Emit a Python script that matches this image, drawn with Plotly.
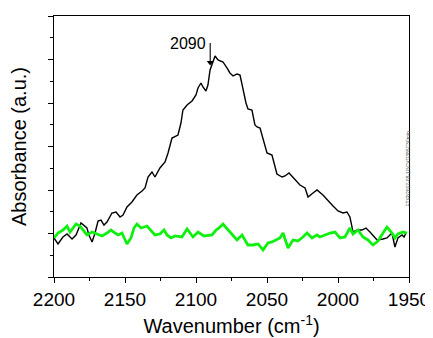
import plotly.graph_objects as go

# Black spectrum (sample)
wn_black = [2200.0, 2197.2, 2193.7, 2190.8, 2187.3, 2184.5, 2181.0, 2178.2, 2176.8, 2175.4,
            2173.2, 2171.1, 2169.0, 2166.9, 2164.8, 2162.7, 2159.2, 2156.3, 2153.5, 2151.4,
            2148.6, 2145.1, 2141.6, 2138.0, 2135.9, 2133.8, 2131.0, 2128.9, 2125.4, 2121.8,
            2119.7, 2116.9, 2114.1, 2112.7, 2110.6, 2109.2, 2106.3, 2102.8, 2100.0, 2098.6,
            2096.5, 2095.1, 2093.0, 2091.6, 2090.1, 2088.0, 2086.6, 2084.5, 2081.0, 2078.2,
            2076.1, 2073.9, 2071.1, 2069.0, 2066.9, 2064.8, 2063.4, 2060.6, 2058.5, 2057.0,
            2054.9, 2052.8, 2050.0, 2046.5, 2045.1, 2043.0, 2039.4, 2037.3, 2034.5, 2031.7,
            2028.9, 2026.8, 2023.2, 2021.1, 2017.6, 2014.8, 2010.6, 2007.0, 2003.5, 2000.0,
            1996.5, 1993.7, 1991.6, 1989.4, 1986.6, 1983.1, 1980.3, 1977.5, 1973.9, 1972.5,
            1968.3, 1965.5, 1962.0, 1959.9, 1957.8, 1954.9, 1953.5, 1952.1]
abs_black = [0.897, 0.759, 0.920, 0.989, 0.874, 0.966, 1.241, 1.149, 1.126, 0.966,
             0.805, 1.011, 1.287, 1.310, 1.195, 1.264, 1.471, 1.494, 1.379, 1.425,
             1.609, 1.724, 1.885, 1.977, 2.046, 2.299, 2.414, 2.299, 2.506, 2.644,
             2.851, 3.195, 3.241, 3.264, 3.540, 3.839, 3.954, 4.046, 4.184, 4.345,
             4.460, 4.368, 4.276, 4.414, 4.759, 4.943, 5.080, 4.989, 4.943, 4.805,
             4.690, 4.621, 4.667, 4.644, 4.299, 4.000, 3.862, 3.839, 3.494, 3.448,
             3.425, 3.149, 2.851, 2.805, 2.621, 2.368, 2.299, 2.322, 2.391, 2.299,
             2.184, 2.115, 2.046, 1.839, 1.931, 2.000, 1.885, 1.747, 1.632, 1.517,
             1.471, 1.494, 1.379, 1.034, 1.080, 1.080, 1.126, 1.034, 0.897, 0.851,
             0.874, 0.897, 1.011, 0.690, 0.897, 0.966, 0.920, 1.011]

# Green spectrum (reference)
wn_green = [2200.0, 2197.2, 2193.7, 2190.8, 2188.7, 2186.6, 2184.5, 2181.7, 2179.6, 2176.8,
            2173.2, 2169.7, 2166.2, 2162.7, 2159.9, 2157.0, 2154.9, 2152.1, 2150.7, 2148.6,
            2145.8, 2143.7, 2141.6, 2138.7, 2134.5, 2131.0, 2128.9, 2125.4, 2122.5, 2120.4,
            2117.6, 2114.8, 2109.9, 2106.3, 2102.1, 2098.6, 2094.4, 2088.7, 2085.9, 2083.8,
            2081.0, 2076.1, 2071.1, 2067.6, 2063.4, 2059.9, 2056.3, 2052.8, 2049.3, 2046.5,
            2043.0, 2040.9, 2038.7, 2035.2, 2031.7, 2028.2, 2024.7, 2021.8, 2018.3, 2014.8,
            2012.7, 2009.2, 2005.6, 2002.1, 1998.6, 1995.1, 1991.6, 1989.4, 1985.9, 1982.4,
            1978.9, 1975.4, 1971.8, 1968.3, 1965.5, 1962.0, 1959.9, 1957.8, 1954.2, 1951.4]
abs_green = [0.897, 1.011, 1.080, 1.172, 1.034, 1.126, 1.218, 1.172, 1.080, 0.966,
             1.034, 0.989, 0.943, 1.011, 1.080, 1.011, 0.966, 1.011, 0.897, 0.759,
             0.897, 1.126, 1.218, 1.126, 1.172, 1.057, 0.966, 0.989, 1.080, 0.966,
             0.897, 0.943, 0.920, 1.103, 0.920, 1.034, 0.943, 0.966, 1.080, 1.126,
             1.218, 1.034, 0.851, 0.966, 0.736, 0.736, 0.759, 0.621, 0.782, 0.805,
             0.851, 0.897, 1.011, 0.667, 0.851, 0.828, 0.920, 1.011, 0.897, 0.966,
             0.920, 0.966, 1.011, 1.034, 0.897, 0.920, 1.126, 0.989, 1.080, 0.920,
             0.851, 0.736, 0.828, 1.011, 1.149, 1.011, 0.897, 0.989, 1.034, 1.011]

x_ticks = [2200, 2150, 2100, 2050, 2000, 1950]
peak_label = "2090"
peak_wn = 2090
arrow_top = 5.38
arrow_head = 4.93

FONT = "Liberation Sans, Arial, sans-serif"

fig = go.Figure()
fig.add_trace(go.Scatter(x=wn_black, y=abs_black, mode="lines",
                         line=dict(color="black", width=1.4), showlegend=False))
fig.add_trace(go.Scatter(x=wn_green, y=abs_green, mode="lines",
                         line=dict(color="#10f010", width=2.8), showlegend=False))

# peak marker arrow: shaft + head
fig.add_shape(type="line", xref="x", yref="y", x0=peak_wn, x1=peak_wn,
              y0=arrow_top, y1=arrow_head, line=dict(color="black", width=1.1))
fig.add_trace(go.Scatter(x=[peak_wn], y=[arrow_head], mode="markers",
                         marker=dict(symbol="triangle-down", size=6, color="black"),
                         showlegend=False, hoverinfo="skip"))
fig.add_annotation(x=2105.6, y=5.36, xref="x", yref="y", text=peak_label,
                   showarrow=False, font=dict(family=FONT, size=16, color="black"))
fig.add_annotation(x=1.011, y=0.264, xref="paper", yref="paper",
                   text="FTIR\\2007-08-11\\CVD385C30min", showarrow=False,
                   textangle=-90, font=dict(family=FONT, size=5, color="#555555"))

# page body has an 8px default margin: figure is sized/offset to compensate
fig.update_layout(
    width=425, height=330,
    margin=dict(l=46, r=24, t=8, b=61),
    paper_bgcolor="white", plot_bgcolor="white",
    font=dict(family=FONT, color="black"),
)
fig.update_xaxes(
    range=[2200, 1950], tickvals=x_ticks, ticktext=[str(v) for v in x_ticks],
    ticks="outside", ticklen=5, tickwidth=1, tickcolor="black",
    minor=dict(dtick=25, ticks="outside", ticklen=3, tickcolor="black"),
    showgrid=False, zeroline=False, automargin=False,
    showline=True, linecolor="black", linewidth=1, mirror=True,
    tickfont=dict(size=19, family=FONT),
    title=dict(text="Wavenumber (cm<sup>-1</sup>)", font=dict(size=20, family=FONT), standoff=10),
)
fig.update_yaxes(
    range=[0, 6], dtick=1, showticklabels=False,
    ticks="outside", ticklen=5, tickwidth=1, tickcolor="black",
    minor=dict(dtick=0.5, ticks="outside", ticklen=3, tickcolor="black"),
    showgrid=False, zeroline=False, automargin=False,
    showline=True, linecolor="black", linewidth=1, mirror=True,
    title=dict(text="Absorbance (a.u.)", font=dict(size=20, family=FONT), standoff=16),
)

fig.write_html("out.html")
